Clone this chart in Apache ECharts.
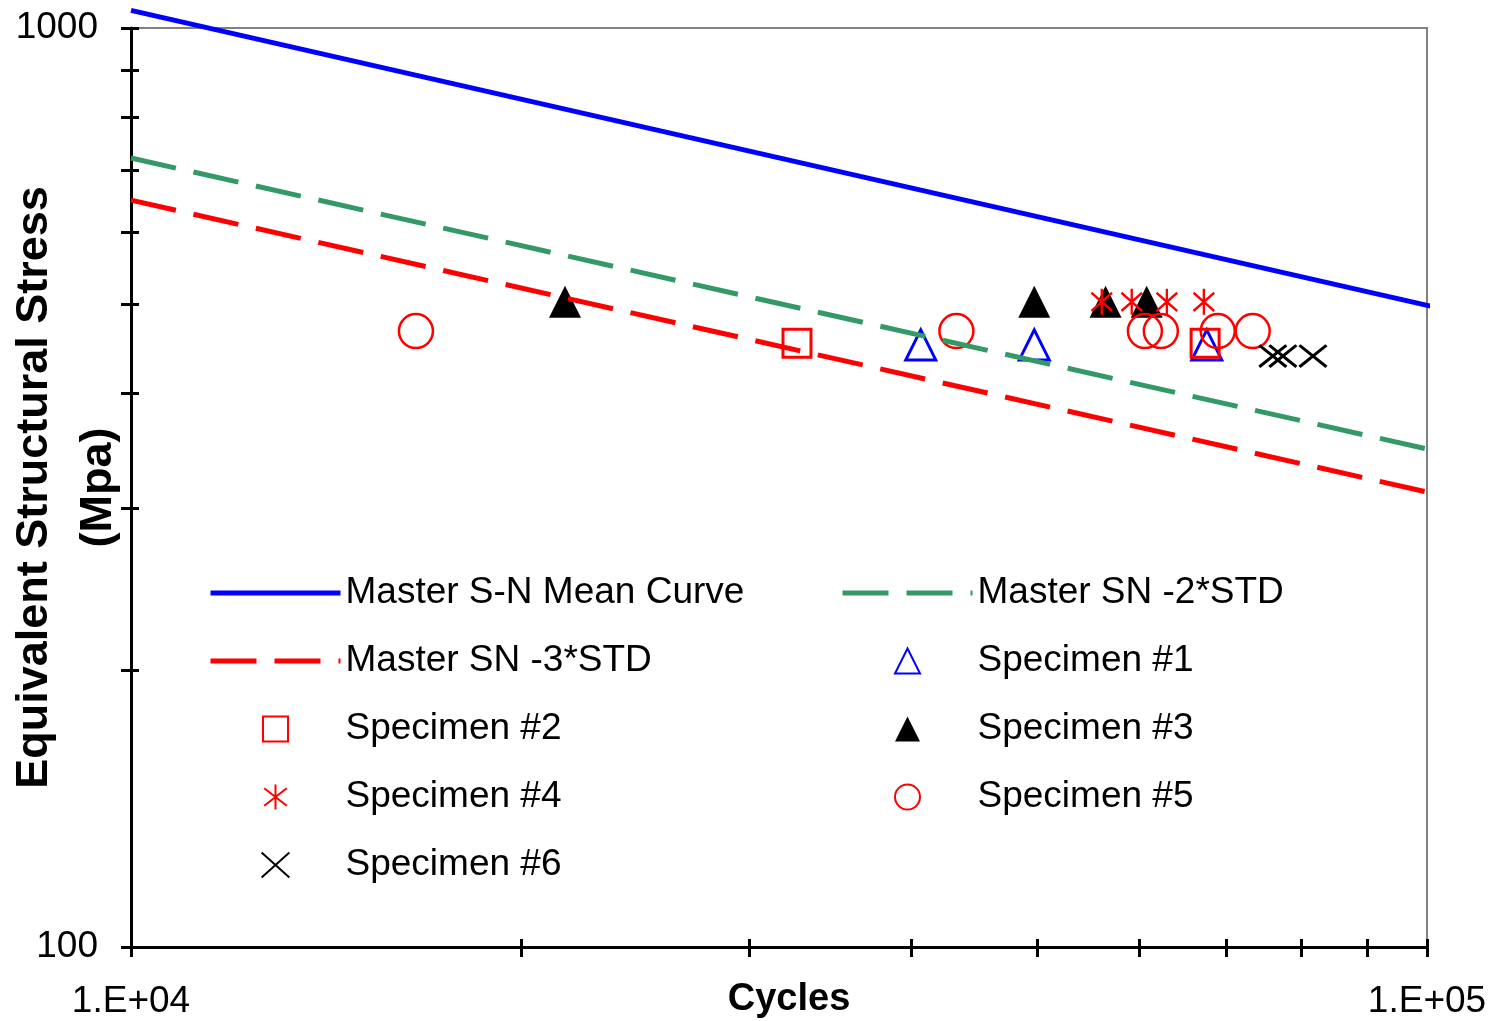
<!DOCTYPE html>
<html>
<head>
<meta charset="utf-8">
<script src="https://cdn.jsdelivr.net/npm/echarts@6/dist/echarts.min.js"></script>
<style>
html,body{margin:0;padding:0;background:#fff;}
#chart{width:1493px;height:1021px;}
</style>
</head>
<body>
<div id="chart"></div>
<script>
// ---- data ----
const meanCurve  = [[10000, 1045], [103600, 493.5]];
const minus2Std  = [[10000, 722], [103600, 344.4]];
const minus3Std  = [[10000, 649.6], [103600, 309.2]];
const specimen1  = [[40680, 452], [49770, 452], [67620, 452]];
const specimen2  = [[32650, 454], [67420, 454]];
const specimen3  = [[21620, 503.5], [49770, 503.5], [56490, 503.5], [60770, 503.5]];
const specimen4  = [[56110, 503.5], [59180, 503.5], [62990, 503.5], [67270, 503.5]];
const specimen5  = [[16590, 468], [43340, 468], [60580, 468], [62320, 468], [68950, 468], [73370, 468]];
const specimen6  = [[76040, 439.5], [77410, 439.5], [81660, 439.5]];

const seriesNames = ['Master S-N Mean Curve', 'Master SN -2*STD', 'Master SN -3*STD',
  'Specimen #1', 'Specimen #2', 'Specimen #3', 'Specimen #4', 'Specimen #5', 'Specimen #6'];
const legendLeftCol  = ['Master S-N Mean Curve', 'Master SN -3*STD', 'Specimen #2', 'Specimen #4', 'Specimen #6'];
const legendRightCol = ['Master SN -2*STD', 'Specimen #1', 'Specimen #3', 'Specimen #5'];
const lineSeriesNames = ['Master S-N Mean Curve', 'Master SN -2*STD', 'Master SN -3*STD'];

const xTickValues  = [10000, 20000, 30000, 40000, 50000, 60000, 70000, 80000, 90000, 100000];
const yTickValues  = [100, 200, 300, 400, 500, 600, 700, 800, 900, 1000];
const xLabelValues = [10000, 100000];
const xLabelTexts  = ['1.E+04', '1.E+05'];
const yLabelValues = [100, 1000];
const yLabelTexts  = ['100', '1000'];
const xTitle = 'Cycles';
const yTitle = 'Equivalent Structural Stress\n(Mpa)';

// ---- chart ----
const FONT = 'Arial, "Liberation Sans", sans-serif';
const chart = echarts.init(document.getElementById('chart'), null, {renderer: 'canvas'});

function labelFor(values, texts) {
  return function (v) {
    for (let i = 0; i < values.length; i++) {
      if (Math.abs(values[i] - v) / values[i] < 1e-6) return texts[i];
    }
    return '';
  };
}

function legendItems(names) {
  return names.map(function (n) {
    if (lineSeriesNames.indexOf(n) >= 0) {
      return {name: n, itemStyle: {color: 'transparent', borderWidth: 0, opacity: 0}, lineStyle: {width: 5}};
    }
    return {name: n};
  });
}

const TRIANGLE = 'path://M5,0L10,10L0,10Z';
const SQUARE = 'path://M0,0L10,0L10,10L0,10Z';
const ASTERISK = 'path://M4.5,0L4.5,10M0,1.5L9,8.5M9,1.5L0,8.5';
const CROSS = 'path://M0,0L10,9M10,0L0,9';

const tickStyle = {color: '#000', width: 3};
const legendBase = {orient: 'vertical', top: 573, padding: 0, itemWidth: 130, itemHeight: 25, itemGap: 28,
  selectedMode: false, symbolKeepAspect: true, textStyle: {fontSize: 37, lineHeight: 40, color: '#000', fontFamily: FONT}};

const option = {
  animation: false,
  backgroundColor: '#fff',
  grid: {left: 131, right: 66, top: 28, bottom: 74, containLabel: false, outerBoundsMode: 'none',
         show: true, borderColor: '#808080', borderWidth: 2, backgroundColor: 'transparent'},
  legend: [
    Object.assign({}, legendBase, {data: legendItems(legendLeftCol), left: 208}),
    Object.assign({}, legendBase, {data: legendItems(legendRightCol), left: 840})
  ],
  xAxis: [
    {type: 'log', logBase: 10, min: 10000, max: 100000, position: 'bottom',
     axisLine: {show: true, lineStyle: {color: '#000', width: 3}},
     axisTick: {show: true, inside: false, length: 10, lineStyle: tickStyle, customValues: xTickValues},
     axisLabel: {show: true, customValues: xLabelValues, formatter: labelFor(xLabelValues, xLabelTexts),
                 fontSize: 37, margin: 36, color: '#000', fontFamily: FONT},
     minorTick: {show: false}, splitLine: {show: false},
     name: xTitle, nameLocation: 'middle', nameGap: 34, nameMoveOverlap: false,
     nameTextStyle: {fontSize: 38, fontWeight: 'bold', color: '#000', fontFamily: FONT, padding: [0, 0, 0, 20]}},
    {type: 'log', logBase: 10, min: 10000, max: 100000, position: 'bottom',
     axisLine: {show: false},
     axisTick: {show: true, inside: true, length: 8, lineStyle: tickStyle, customValues: xTickValues},
     axisLabel: {show: false}, splitLine: {show: false}}
  ],
  yAxis: [
    {type: 'log', logBase: 10, min: 100, max: 1000, position: 'left',
     axisLine: {show: true, lineStyle: {color: '#000', width: 3}},
     axisTick: {show: true, inside: false, length: 10, lineStyle: tickStyle, customValues: yTickValues},
     axisLabel: {show: true, customValues: yLabelValues, formatter: labelFor(yLabelValues, yLabelTexts),
                 fontSize: 37, margin: 33, color: '#000', fontFamily: FONT},
     minorTick: {show: false}, splitLine: {show: false},
     name: yTitle, nameLocation: 'middle', nameGap: 0, nameRotate: 90, nameMoveOverlap: false,
     nameTextStyle: {fontSize: 45, lineHeight: 64, fontWeight: 'bold', color: '#000', fontFamily: FONT, align: 'center'}},
    {type: 'log', logBase: 10, min: 100, max: 1000, position: 'left',
     axisLine: {show: false},
     axisTick: {show: true, inside: true, length: 8, lineStyle: tickStyle, customValues: yTickValues},
     axisLabel: {show: false}, splitLine: {show: false}}
  ],
  series: [
    {name: seriesNames[0], type: 'line', data: meanCurve, symbol: 'none', clip: false,
     itemStyle: {color: '#0000FF'}, lineStyle: {color: '#0000FF', width: 5}},
    {name: seriesNames[1], type: 'line', data: minus2Std, symbol: 'none', clip: false,
     itemStyle: {color: '#339966'}, lineStyle: {color: '#339966', width: 5, type: [46, 18]}},
    {name: seriesNames[2], type: 'line', data: minus3Std, symbol: 'none', clip: false,
     itemStyle: {color: '#FF0000'}, lineStyle: {color: '#FF0000', width: 5, type: [46, 18]}},
    {name: seriesNames[3], type: 'scatter', data: specimen1, symbol: TRIANGLE, symbolSize: [30, 30], symbolKeepAspect: true,
     itemStyle: {color: 'transparent', borderColor: '#0000FF', borderWidth: 3, opacity: 1}},
    {name: seriesNames[4], type: 'scatter', data: specimen2, symbol: SQUARE, symbolSize: [28, 28], symbolKeepAspect: true,
     itemStyle: {color: 'transparent', borderColor: '#FF0000', borderWidth: 3, opacity: 1}},
    {name: seriesNames[5], type: 'scatter', data: specimen3, symbol: TRIANGLE, symbolSize: [32, 32], symbolKeepAspect: true,
     itemStyle: {color: '#000', borderColor: '#000', borderWidth: 0, opacity: 1}},
    {name: seriesNames[6], type: 'scatter', data: specimen4, symbol: ASTERISK, symbolSize: [23, 26], symbolKeepAspect: true,
     itemStyle: {color: 'transparent', borderColor: '#FF0000', borderWidth: 2.5, opacity: 1}},
    {name: seriesNames[7], type: 'scatter', data: specimen5, symbol: 'circle', symbolSize: 34, symbolKeepAspect: true,
     itemStyle: {color: 'transparent', borderColor: '#FF0000', borderWidth: 2.5, opacity: 1}},
    {name: seriesNames[8], type: 'scatter', data: specimen6, symbol: CROSS, symbolSize: [27, 24], symbolKeepAspect: true,
     itemStyle: {color: 'transparent', borderColor: '#000', borderWidth: 3, opacity: 1}}
  ]
};
chart.setOption(option);
</script>
</body>
</html>
